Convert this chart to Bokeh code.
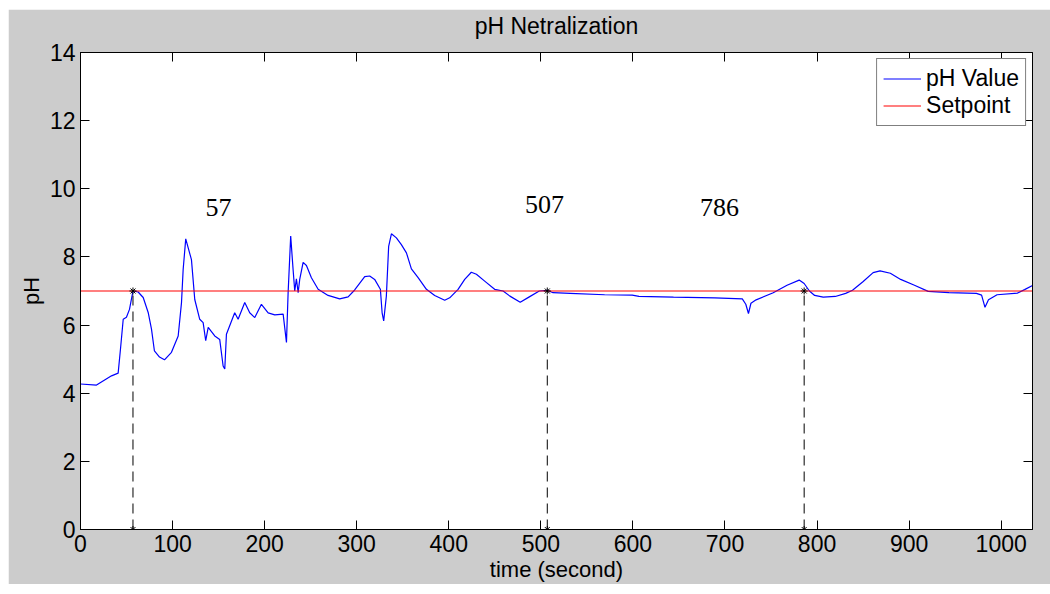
from bokeh.plotting import figure
from bokeh.models import LinearAxis, FixedTicker, Range1d, Legend, LegendItem, ColumnDataSource
from bokeh.core.properties import value
from bokeh.embed import file_html
from bokeh.resources import INLINE

# ---- data ----
time_s = [0, 17.4, 33.7, 40.9, 43.4, 46.4, 49.9, 53.2, 57, 62.6, 68.1, 73.5, 77.1, 80.3, 85.8,
          91.2, 98.8, 106.1, 109.7, 111.5, 114.3, 120.5, 124.1, 129.5, 133.2, 136.0, 138.7,
          145.8, 151.2, 154.9, 156.7, 158.5, 167.5, 171.2, 178.4, 183.8, 189.3, 196.5, 203.8,
          211.0, 220.1, 223.7, 225.5, 228.3, 230.9, 232.7, 234.5, 236.4, 238.1, 241.8, 245.4,
          250.8, 258.1, 268.9, 281.5, 290.7, 297.8, 308.7, 314.1, 319.5, 325.7, 327.6, 329.3,
          332.2, 334.7, 337.7, 343.1, 348.5, 354.0, 359.4, 366.7, 375.7, 384.7, 395.6, 401.0,
          410.1, 417.3, 424.5, 430.0, 439.0, 449.8, 459.0, 466.4, 477.6, 487.0, 498.3, 507,
          513.2, 531.9, 569.3, 599.2, 606.6, 644.1, 688.9, 718.8, 722.6, 725.5, 728.2, 733.8,
          752.4, 767.4, 780.6, 786, 791.7, 797.4, 806.7, 819.8, 831.1, 838.5, 849.8, 860.9,
          868.4, 879.6, 890.8, 905.8, 920.7, 943.2, 973.1, 978.7, 982.4, 986.2, 995.5, 1017.9,
          1025.4, 1034]
ph_value = [4.27, 4.24, 4.51, 4.59, 5.29, 6.17, 6.23, 6.46, 7.0, 6.97, 6.81, 6.37, 5.88, 5.24, 5.06,
            4.98, 5.2, 5.68, 6.66, 7.63, 8.53, 7.92, 6.75, 6.17, 6.07, 5.54, 5.93,
            5.68, 5.58, 4.80, 4.71, 5.73, 6.36, 6.17, 6.66, 6.36, 6.22, 6.61, 6.36,
            6.30, 6.32, 5.49, 6.95, 8.61, 7.63, 7.0, 7.36, 6.95, 7.34, 7.84, 7.75,
            7.39, 7.05, 6.87, 6.77, 6.83, 7.03, 7.42, 7.44, 7.34, 7.05, 6.36, 6.12,
            6.85, 8.31, 8.68, 8.56, 8.36, 8.12, 7.65, 7.39, 7.05, 6.87, 6.73, 6.80,
            7.05, 7.34, 7.55, 7.49, 7.29, 7.05, 7.0, 6.85, 6.67, 6.82, 7.0, 7.02,
            6.95, 6.93, 6.89, 6.88, 6.84, 6.82, 6.80, 6.77, 6.61, 6.34, 6.64, 6.74,
            6.95, 7.17, 7.32, 7.22, 7.0, 6.87, 6.82, 6.84, 6.93, 7.02, 7.27, 7.54,
            7.59, 7.52, 7.34, 7.17, 6.99, 6.95, 6.93, 6.88, 6.52, 6.74, 6.89, 6.94,
            7.04, 7.16]
setpoint_value = 7.0
marker_times = [57, 507, 786]
marker_labels = ["57", "507", "786"]
label_x = [150, 504, 694]
label_y = [9.45, 9.55, 9.45]
x_ticks = [0, 100, 200, 300, 400, 500, 600, 700, 800, 900, 1000]
y_ticks = [0, 2, 4, 6, 8, 10, 12, 14]
x_end = 1034
chart_title = "pH Netralization"

FONT = "Liberation Sans"
GRAY = "#cccccc"

p = figure(width=1042, height=575, output_backend="svg", toolbar_location=None,
           x_range=Range1d(0, x_end), y_range=Range1d(0, 14),
           min_border_left=72, min_border_right=18, min_border_top=43, min_border_bottom=52,
           background_fill_color="white", border_fill_color=GRAY)
p.margin = (9, 0, 0, 8)
p.outline_line_color = "black"
p.xgrid.visible = False
p.ygrid.visible = False

for ax in (p.xaxis[0], p.yaxis[0]):
    ax.major_tick_in = 9
    ax.major_tick_out = 0
    ax.minor_tick_line_color = None
    ax.axis_line_color = "black"
    ax.major_tick_line_color = "black"
    ax.major_label_text_font = FONT
    ax.major_label_text_font_size = "23px"
    ax.major_label_text_color = "black"
    ax.axis_label_text_font = FONT
    ax.axis_label_text_font_size = "22px"
    ax.axis_label_text_font_style = "normal"
    ax.axis_label_text_color = "black"
    ax.major_label_standoff = 5

p.xaxis[0].ticker = FixedTicker(ticks=x_ticks)
p.yaxis[0].ticker = FixedTicker(ticks=y_ticks)
p.xaxis[0].axis_label = "time (second)"
p.yaxis[0].axis_label = "pH"
p.xaxis[0].axis_label_standoff = 2
p.yaxis[0].axis_label_standoff = 3

# top axis carries the chart title as its label
top_ax = LinearAxis(ticker=FixedTicker(ticks=x_ticks),
                    major_label_overrides={t: "" for t in x_ticks},
                    axis_label=chart_title)
top_ax.axis_label_text_font = FONT
top_ax.axis_label_text_font_size = "23px"
top_ax.axis_label_text_font_style = "normal"
top_ax.axis_label_text_color = "black"
top_ax.axis_label_standoff = 14
right_ax = LinearAxis(ticker=FixedTicker(ticks=y_ticks),
                      major_label_overrides={t: "" for t in y_ticks})
for ax in (top_ax, right_ax):
    ax.major_tick_in = 9
    ax.major_tick_out = 0
    ax.minor_tick_line_color = None
    ax.major_label_text_font_size = "1px"
    ax.major_label_standoff = 0
    ax.axis_line_color = "black"
p.add_layout(top_ax, "above")
p.add_layout(right_ax, "right")

# series
src = ColumnDataSource(dict(t=time_s, ph=ph_value))
r_ph = p.line("t", "ph", source=src, line_color="#0000ff", line_width=1.2)
sp_src = ColumnDataSource(dict(t=[0, x_end], sp=[setpoint_value, setpoint_value]))
r_sp = p.line("t", "sp", source=sp_src, line_color="#ff0000", line_width=1.2)

# dashed markers
for t in marker_times:
    p.line([t, t], [0, setpoint_value], line_color="black", line_dash="10 6", line_width=1)
mk = ColumnDataSource(dict(x=marker_times + marker_times,
                           y=[0] * len(marker_times) + [setpoint_value] * len(marker_times)))
p.scatter("x", "y", source=mk, marker="asterisk", size=7, line_color="black", line_width=1)

lab = ColumnDataSource(dict(x=label_x, y=label_y, t=marker_labels))
p.text("x", "y", text="t", source=lab, text_font=value("Liberation Serif"),
       text_font_size="26px", text_color="black", text_align="center", text_baseline="middle")

legend = Legend(items=[LegendItem(label="pH Value", renderers=[r_ph]),
                       LegendItem(label="Setpoint", renderers=[r_sp])],
                location="top_right")
legend.margin = 6
legend.padding = 6
legend.spacing = 0
legend.glyph_width = 38
legend.glyph_height = 27
legend.label_height = 27
legend.label_standoff = 5
legend.label_text_font = FONT
legend.label_text_font_size = "23px"
legend.label_text_color = "black"
legend.border_line_color = "black"
legend.border_line_width = 1
legend.background_fill_color = "white"
legend.background_fill_alpha = 1
p.add_layout(legend)

open("out.html", "w").write(file_html(p, INLINE))
